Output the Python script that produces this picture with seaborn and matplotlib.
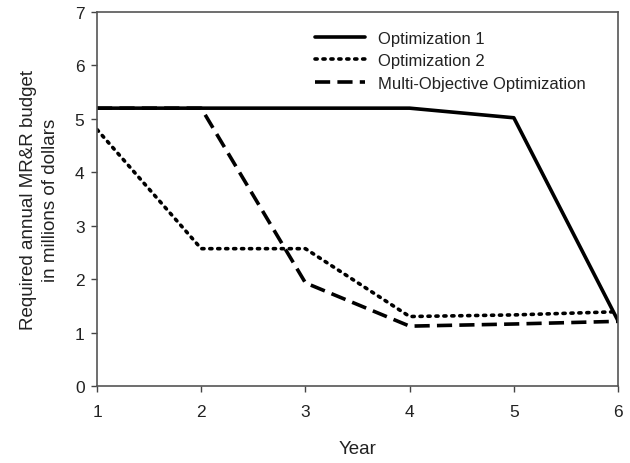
import matplotlib
matplotlib.use("Agg")
import matplotlib.pyplot as plt
import seaborn as sns
import pandas as pd

years = [1, 2, 3, 4, 5, 6]
opt1 = [5.2, 5.2, 5.2, 5.2, 5.02, 1.22]
opt2 = [4.8, 2.57, 2.57, 1.3, 1.33, 1.39]
multi = [5.2, 5.2, 1.93, 1.12, 1.16, 1.21]
series_names = ["Optimization 1", "Optimization 2", "Multi-Objective Optimization"]

rows = []
for name, vals in zip(series_names, [opt1, opt2, multi]):
    for x, v in zip(years, vals):
        rows.append({"Year": x, "Budget": v, "Series": name})
df = pd.DataFrame(rows)

sns.set_style("white")
plt.rcParams["font.family"] = ["Liberation Sans", "DejaVu Sans"]

fig = plt.figure(figsize=(6.3, 4.64), dpi=100)
ax = fig.add_axes([0.154, 0.166, 0.827, 0.806])

styles = {
    "Optimization 1": "-",
    "Optimization 2": (0, (0.6, 1.6)),
    "Multi-Objective Optimization": (0, (4.2, 2.0)),
}
for name in ["Multi-Objective Optimization", "Optimization 2", "Optimization 1"]:
    sub = df[df["Series"] == name]
    sns.lineplot(data=sub, x="Year", y="Budget", ax=ax, color="black",
                 linewidth=2.6, label=name, linestyle=styles[name])
for l in ax.get_lines():
    if l.get_label() == "Optimization 2":
        l.set_dash_capstyle("round")

ax.set_xlim(1, 6)
ax.set_ylim(0, 7)
ax.set_xticks(years)
ax.set_yticks(range(0, 8))
ax.tick_params(axis="both", direction="out", length=4, width=1, color="#444444",
               labelsize=12.5, labelcolor="#222222", left=True, bottom=True)
ax.tick_params(axis="x", pad=9)
ax.tick_params(axis="y", pad=5)
for sp in ax.spines.values():
    sp.set_color("#555555")
    sp.set_linewidth(1.2)

ax.set_xlabel("Year", fontsize=13.5, color="#222222", labelpad=15)
ax.set_ylabel("Required annual MR&R budget\nin millions of dollars", fontsize=13.5,
              color="#222222", labelpad=11, linespacing=1.4)

handles, labels = ax.get_legend_handles_labels()
order = [labels.index(n) for n in series_names]
leg = ax.legend([handles[i] for i in order], [labels[i] for i in order],
                loc="upper left", bbox_to_anchor=(0.39, 0.99), frameon=False,
                fontsize=12, handlelength=3.0, handletextpad=0.75,
                labelspacing=0.45)
for t in leg.get_texts():
    t.set_color("#222222")

fig.savefig("out.png", dpi=100)
